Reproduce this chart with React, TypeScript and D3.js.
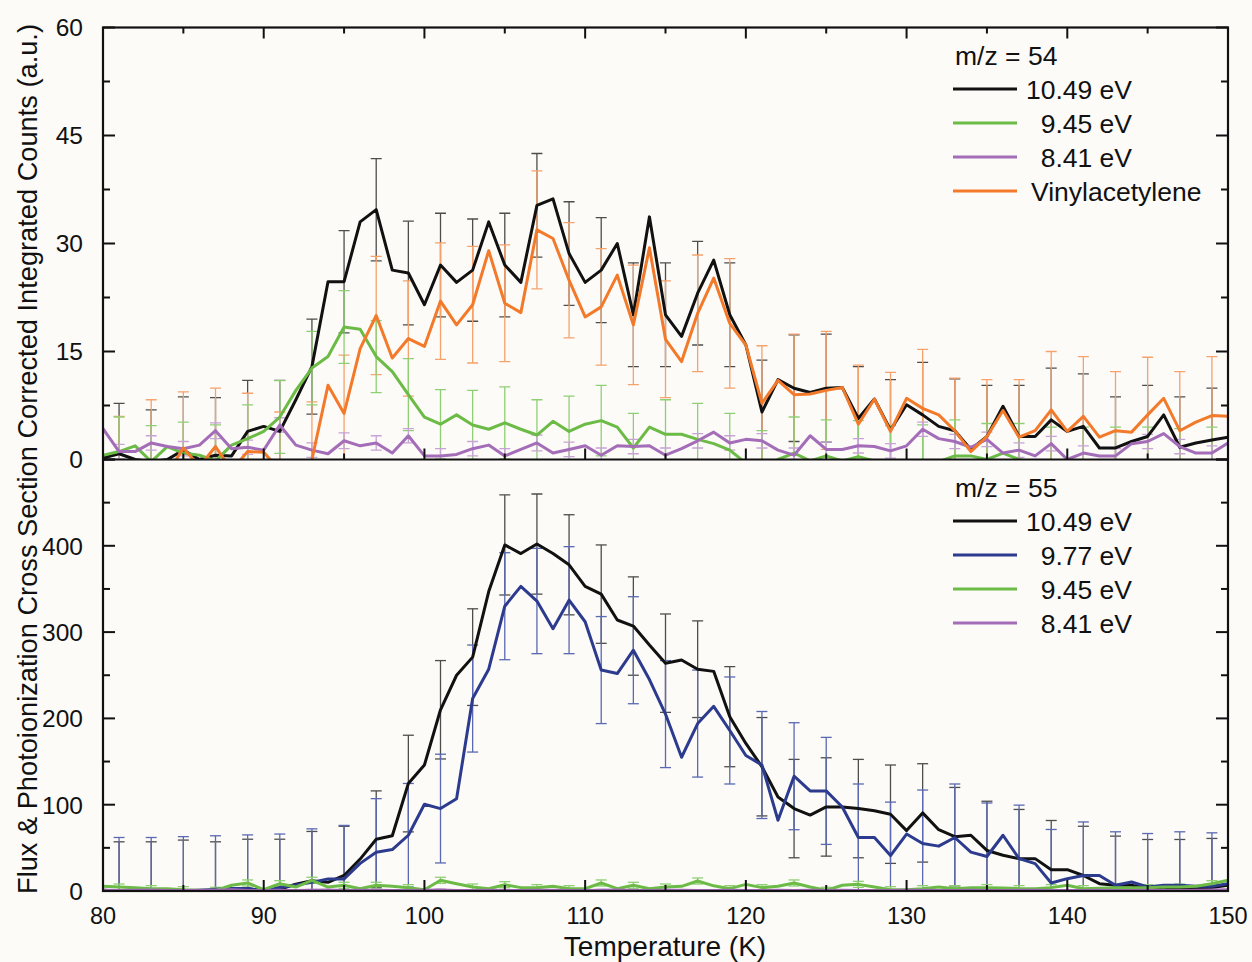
import React from 'react';
import * as d3 from 'd3';

// ---------- data ----------
const temps = [80,81,82,83,84,85,86,87,88,89,90,91,92,93,94,95,96,97,98,99,100,101,102,103,104,105,106,107,108,109,110,111,112,113,114,115,116,117,118,119,120,121,122,123,124,125,126,127,128,129,130,131,132,133,134,135,136,137,138,139,140,141,142,143,144,145,146,147,148,149,150];
const errTemps = [81,83,85,87,89,91,93,95,97,99,101,103,105,107,109,111,113,115,117,119,121,123,125,127,129,131,133,135,137,139,141,143,145,147,149];

// m/z = 54
const mz54_1049 = [0.2,0.8,0,-0.3,0,1.3,0,0.6,0.5,3.9,4.6,3.9,8.3,12.9,24.7,24.7,33.0,34.7,26.3,25.9,21.5,27.0,24.6,26.3,33.0,27.0,24.6,35.3,36.2,28.6,24.6,26.3,30.0,20.1,33.7,20.1,17.1,23.1,27.7,20.1,15.9,6.6,11.1,9.9,9.3,9.9,10.0,5.7,8.4,4.1,7.6,6.2,4.6,4.0,1.4,3.2,7.4,3.2,3.2,5.5,3.9,4.6,1.6,1.6,2.5,3.2,6.2,1.7,2.3,2.7,3.1];
const mz54_945 = [0.6,1.1,1.9,-0.3,1.8,0.9,0.6,-0.2,2.0,2.9,3.9,5.9,9.6,12.7,14.3,18.4,18.1,14.3,12.2,9.0,5.9,4.9,6.2,4.8,4.2,5.1,4.2,3.4,5.3,3.9,4.9,5.4,4.5,1.6,4.5,3.5,3.5,2.8,2.2,1.3,-0.5,-1.0,0,0.9,-0.2,0.5,-0.2,0.4,-0.2,-0.3,-0.3,-0.2,-0.3,0.5,0.5,0,0.9,0,-0.5,-0.5,-0.6,-0.5,-0.8,-0.5,-0.6,-0.5,-0.5,-0.7,-0.6,-0.5,-0.6];
const mz54_841 = [4.3,1.1,1.1,2.3,1.8,1.5,2.0,4.0,1.5,1.7,1.3,4.8,2.0,1.3,0.8,2.6,1.9,2.3,0.9,3.3,0.5,0.5,0.7,1.5,2.0,0.5,1.4,2.3,0.9,1.4,1.9,0.6,1.9,1.8,1.9,0.6,1.5,2.6,3.8,2.3,2.8,2.6,1.3,0.6,3.3,1.4,1.4,1.9,1.8,1.2,1.9,4.2,2.9,2.5,1.7,2.8,0.9,1.3,0.5,2.2,0,0.9,0.5,0.5,2.2,2.5,3.6,1.8,0.9,0.9,2.3];
const mz54_vinyl = [-2,-2,-1,-0.3,-2,1.6,-1,1.8,-1.5,1.1,1.0,-1.5,-2,0,10.3,6.4,15.4,20.0,14.1,16.8,15.7,22.0,18.7,21.5,29.0,21.7,20.4,31.9,30.7,24.9,19.8,21.2,25.6,18.7,29.4,16.7,13.6,20.3,25.2,18.9,15.9,7.8,11.0,9.0,9.1,9.6,10.0,4.9,8.4,3.9,8.5,7.1,6.2,4.0,1.1,3.2,6.8,3.1,4.0,6.9,3.9,6.0,3.1,4.0,3.8,6.2,8.5,4.0,5.2,6.1,6.0];

const err54_1049 = [7.0,7.2,7.4,8.0,7.1,7.1,6.6,7.1,7.1,7.2,7.2,7.1,7.2,7.2,7.2,7.3,7.2,7.2,7.2,7.2,7.2,7.4,7.5,7.2,7.0,7.3,7.2,7.1,7.1,7.2,7.3,7.1,7.1,7.0,7.2];
const err54_945 = [4.8,5.0,4.3,5.0,4.7,5.05,5.1,5.05,5.0,5.0,4.8,4.8,5.0,4.9,4.9,4.9,4.8,4.8,5.0,5.1,5.0,5.0,5.0,5.0,5.0,5.0,5.0,5.0,5.0,5.0,5.0,5.0,5.0,5.0,5.0];
const err54_841 = [1.0,1.0,1.0,1.1,1.0,1.0,1.0,1.1,1.0,1.0,1.0,1.0,1.0,1.1,1.0,1.0,1.0,1.0,1.0,1.0,1.0,1.0,1.0,1.0,1.0,1.0,1.0,1.0,1.0,1.0,1.0,1.0,1.0,1.0,1.0];
const err54_vinyl = [8.0,8.6,7.8,8.1,8.1,8.1,8.0,8.1,8.2,8.0,8.1,8.1,8.1,8.2,8.0,8.1,8.3,8.1,8.1,9.0,8.0,8.4,8.2,8.2,8.2,8.2,7.3,7.9,8.0,8.1,8.3,8.2,8.0,8.2,8.2];

// m/z = 55
const mz55_1049 = [1,0,0,0,0,1,-1,0,1,3,0,2,8,12,10,18,37,60,64,124.5,146,210,250,271,347,401,391,402,391,378,353,344,314,307,285,264,267.6,257,254.5,202,171,144,109,95.5,88,97.4,97.4,95.5,93,89,70,90.5,71,63,64.6,47,41.4,37.5,37.5,24.7,24.7,18,8.5,6.6,6.6,2.7,1.5,2.7,2.7,3.9,6.6];
const mz55_977 = [0,0,0,0,0,0,1,2,3,3,0,4,7,10,14,14,32,45,48,64.6,100.5,95.5,107,223,257,330,353,336,304,337,312,256,252,279,245,205,155,194,214,186,157,146,82,133,116,116,97.4,62,62,41,66,55,52,62,45,40,64.6,37.5,31.7,9.3,14.3,18,18,6.6,10.4,4.6,6.6,6.6,5.4,5.4,8.5];
const mz55_945 = [5.4,4.6,3.9,2.7,2.7,1.5,0.8,0.8,6.6,9.3,1.5,8.5,4.6,12.4,4.6,6.6,2.7,6.6,5.4,3.9,1.5,12.4,8.5,4.6,2.7,7.3,3.9,3.9,5.4,2.7,2.7,9.3,2.7,6.6,2.7,4.6,5.4,11.6,6.0,2.7,7.7,3.9,5.4,9.3,4.6,0.8,6.6,7.7,4.6,1.5,1.5,2.7,4.6,2.7,3.9,3.9,3.5,2.7,2.7,3.9,6.6,2.7,3.1,3.9,3.9,3.9,4.6,4.6,5.4,8.5,12.4];
const mz55_841 = [1.0,0.5,0.8,1.2,0.6,0.5,1.0,0.8,1.5,0.7,0.5,1.0,0.6,0.8,1.2,0.5,0.9,1.0,0.6,0.5,0.8,1.1,0.6,0.5,0.9,0.7,0.5,1.0,0.8,0.6,0.5,0.9,1.2,0.7,0.5,0.8,1.0,0.6,0.5,0.9,0.7,0.5,1.0,0.6,0.8,0.5,0.9,0.6,0.7,0.5,1.0,0.8,0.6,0.5,0.9,0.7,0.5,0.8,1.0,0.6,0.5,0.7,0.9,0.6,0.5,0.8,0.7,0.6,0.9,1.2,1.5];

const err55_1049 = [57,57,58,57,57,58,57,57,56,56,57,56,58,58,58,57,57,57,56,58,57,57,57,57,57,57,57,57,57,57,57,57,57,57,57];
const err55_977 = [62,62,63,62,62,62,62,62,62,60,63,62,62,61,62,62,62,62,62,62,62,62,62,62,62,62,62,62,62,62,62,62,62,62,62];
const err55_945 = [3.5,3.5,3.5,3.5,3.5,3.5,3.5,3.5,3.5,3.5,3.5,3.5,3.5,3.5,3.5,3.5,3.5,3.5,3.5,3.5,3.5,3.5,3.5,3.5,3.5,3.5,3.5,3.5,3.5,3.5,3.5,3.5,3.5,3.5,3.5];
const err55_841 = [1,1,1,1,1,1,1,1,1,1,1,1,1,1,1,1,1,1,1,1,1,1,1,1,1,1,1,1,1,1,1,1,1,1,1];

const xTicksMajor = [80,90,100,110,120,130,140,150];
const xTicksMinor = [85,95,105,115,125,135,145];
const yTopMajor = [0,15,30,45,60];
const yTopMinor = [7.5,22.5,37.5,52.5];
const yBotMajor = [0,100,200,300,400,500];
const yBotLabels = [0,100,200,300,400];
const yBotMinor = [50,150,250,350,450];

// ---------- layout / styles ----------
const W = 1252, H = 962;
const L = 103, R = 1228, T = 27.5, MID = 459.5, B = 891;
const FONT = 'Liberation Sans, Arial, Helvetica, sans-serif';
const C = {
  black: '#111111', green: '#6cbb46', purple: '#a46db8', orange: '#f27a2a', blue: '#2d3b8e',
  eblack: '#4d4d4d', egreen: '#8fcf74', epurple: '#c7a3d6', eorange: '#f5a26c', eblue: '#5a69b1',
};

const x = d3.scaleLinear().domain([80, 150]).range([L, R]);
const yTop = d3.scaleLinear().domain([0, 60]).range([MID, T]);
const yBot = d3.scaleLinear().domain([0, 500]).range([B, MID]);

function linePath(vals: number[], y: d3.ScaleLinear<number, number>) {
  return d3.line<number>().x((_, i) => x(temps[i])).y(d => y(d))(vals) || '';
}

function ErrorBars({ vals, errs, y, color }: { vals: number[]; errs: number[]; y: d3.ScaleLinear<number, number>; color: string }) {
  return (
    <g stroke={color} strokeWidth={1.3} fill="none">
      {errTemps.map((t, j) => {
        const v = vals[temps.indexOf(t)];
        const e = errs[j];
        const cx = x(t);
        const y1 = y(v + e), y2 = y(v - e);
        return (
          <g key={t}>
            <line x1={cx} x2={cx} y1={y1} y2={y2} />
            <line x1={cx - 5.5} x2={cx + 5.5} y1={y1} y2={y1} />
            <line x1={cx - 5.5} x2={cx + 5.5} y1={y2} y2={y2} />
          </g>
        );
      })}
    </g>
  );
}

function Legend({ x0, yTitle, title, items }: { x0: number; yTitle: number; title: string; items: { label: string; color: string; anchorEnd: boolean }[] }) {
  return (
    <g fontFamily={FONT} fontSize={26.5} fill="#111">
      <text x={x0 + 2} y={yTitle}>{title}</text>
      {items.map((it, i) => {
        const ly = yTitle + 24 + i * 34;
        return (
          <g key={it.label}>
            <line x1={x0} x2={x0 + 64} y1={ly} y2={ly} stroke={it.color} strokeWidth={3} />
            {it.anchorEnd
              ? <text x={1132} y={ly + 9.5} textAnchor="end">{it.label}</text>
              : <text x={1031} y={ly + 9.5}>{it.label}</text>}
          </g>
        );
      })}
    </g>
  );
}

export default function App() {
  const tickStroke = { stroke: '#111', strokeWidth: 2 };
  return (
    <svg width={W} height={H} style={{ position: 'absolute', left: 0, top: 0, display: 'block' }}>
      <rect x={0} y={0} width={W} height={H} fill="#fcfbf8" />
      <defs>
        <clipPath id="clipTop"><rect x={L} y={T} width={R - L} height={MID - T} /></clipPath>
        <clipPath id="clipBot"><rect x={L} y={MID} width={R - L} height={B - MID} /></clipPath>
      </defs>

      {/* top panel data */}
      <g clipPath="url(#clipTop)">
        <ErrorBars vals={mz54_1049} errs={err54_1049} y={yTop} color={C.eblack} />
        <ErrorBars vals={mz54_vinyl} errs={err54_vinyl} y={yTop} color={C.eorange} />
        <ErrorBars vals={mz54_945} errs={err54_945} y={yTop} color={C.egreen} />
        <ErrorBars vals={mz54_841} errs={err54_841} y={yTop} color={C.epurple} />
        <g fill="none" strokeWidth={3} strokeLinejoin="round">
          <path d={linePath(mz54_1049, yTop)} stroke={C.black} />
          <path d={linePath(mz54_945, yTop)} stroke={C.green} />
          <path d={linePath(mz54_841, yTop)} stroke={C.purple} />
          <path d={linePath(mz54_vinyl, yTop)} stroke={C.orange} />
        </g>
      </g>

      {/* bottom panel data */}
      <g clipPath="url(#clipBot)">
        <ErrorBars vals={mz55_1049} errs={err55_1049} y={yBot} color={C.eblack} />
        <ErrorBars vals={mz55_977} errs={err55_977} y={yBot} color={C.eblue} />
        <ErrorBars vals={mz55_945} errs={err55_945} y={yBot} color={C.egreen} />
        <ErrorBars vals={mz55_841} errs={err55_841} y={yBot} color={C.epurple} />
        <g fill="none" strokeWidth={3} strokeLinejoin="round">
          <path d={linePath(mz55_1049, yBot)} stroke={C.black} />
          <path d={linePath(mz55_977, yBot)} stroke={C.blue} />
          <path d={linePath(mz55_945, yBot)} stroke={C.green} />
          <path d={linePath(mz55_841, yBot)} stroke={C.purple} />
        </g>
      </g>

      {/* frames */}
      <rect x={L} y={T} width={R - L} height={B - T} fill="none" stroke="#111" strokeWidth={2.2} />
      <line x1={L} x2={R} y1={MID} y2={MID} stroke="#111" strokeWidth={2.2} />

      {/* ticks */}
      <g {...tickStroke}>
        {xTicksMajor.map(t => (
          <g key={'xm' + t}>
            <line x1={x(t)} x2={x(t)} y1={T} y2={T + 11} />
            <line x1={x(t)} x2={x(t)} y1={MID} y2={MID - 11} />
            <line x1={x(t)} x2={x(t)} y1={B} y2={B - 11} />
          </g>
        ))}
        {xTicksMinor.map(t => (
          <g key={'xn' + t}>
            <line x1={x(t)} x2={x(t)} y1={T} y2={T + 6} />
            <line x1={x(t)} x2={x(t)} y1={MID} y2={MID - 6} />
            <line x1={x(t)} x2={x(t)} y1={B} y2={B - 6} />
          </g>
        ))}
        {yTopMajor.map(v => (
          <g key={'ytm' + v}>
            <line x1={L} x2={L + 12} y1={yTop(v)} y2={yTop(v)} />
            <line x1={R} x2={R - 12} y1={yTop(v)} y2={yTop(v)} />
          </g>
        ))}
        {yTopMinor.map(v => (
          <g key={'ytn' + v}>
            <line x1={L} x2={L + 7} y1={yTop(v)} y2={yTop(v)} />
            <line x1={R} x2={R - 7} y1={yTop(v)} y2={yTop(v)} />
          </g>
        ))}
        {yBotMajor.map(v => (
          <g key={'ybm' + v}>
            <line x1={L} x2={L + 12} y1={yBot(v)} y2={yBot(v)} />
            <line x1={R} x2={R - 12} y1={yBot(v)} y2={yBot(v)} />
          </g>
        ))}
        {yBotMinor.map(v => (
          <g key={'ybn' + v}>
            <line x1={L} x2={L + 7} y1={yBot(v)} y2={yBot(v)} />
            <line x1={R} x2={R - 7} y1={yBot(v)} y2={yBot(v)} />
          </g>
        ))}
      </g>

      {/* tick labels */}
      <g fontFamily={FONT} fontSize={24.5} fill="#111">
        {yTopMajor.map(v => (
          <text key={'lt' + v} x={83} y={yTop(v) + 8.8} textAnchor="end">{v}</text>
        ))}
        {yBotLabels.map(v => (
          <text key={'lb' + v} x={83} y={yBot(v) + 8.8} textAnchor="end">{v}</text>
        ))}
      </g>
      <g fontFamily={FONT} fontSize={23.5} fill="#111">
        {xTicksMajor.map(t => (
          <text key={'lx' + t} x={x(t)} y={924} textAnchor="middle">{t}</text>
        ))}
      </g>

      {/* axis titles */}
      <text x={665} y={956} textAnchor="middle" fontFamily={FONT} fontSize={28} fill="#111">Temperature (K)</text>
      <text transform="translate(37,459) rotate(-90)" textAnchor="middle" fontFamily={FONT} fontSize={27.2} fill="#111"
        textLength={870} lengthAdjust="spacingAndGlyphs">
        Flux &amp; Photoionization Cross Section Corrected Integrated Counts (a.u.)
      </text>

      {/* legends */}
      <Legend x0={953} yTitle={65} title="m/z = 54" items={[
        { label: '10.49 eV', color: C.black, anchorEnd: true },
        { label: '9.45 eV', color: C.green, anchorEnd: true },
        { label: '8.41 eV', color: C.purple, anchorEnd: true },
        { label: 'Vinylacetylene', color: C.orange, anchorEnd: false },
      ]} />
      <Legend x0={953} yTitle={497} title="m/z = 55" items={[
        { label: '10.49 eV', color: C.black, anchorEnd: true },
        { label: '9.77 eV', color: C.blue, anchorEnd: true },
        { label: '9.45 eV', color: C.green, anchorEnd: true },
        { label: '8.41 eV', color: C.purple, anchorEnd: true },
      ]} />
    </svg>
  );
}
